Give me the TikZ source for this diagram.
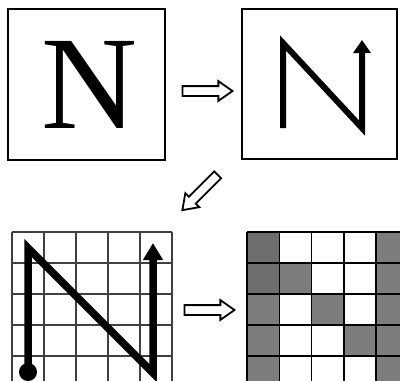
\documentclass[tikz,border=0pt]{standalone}
\usepackage{fontspec}
\usepackage{tikz}
\usetikzlibrary{arrows.meta, shapes.arrows}
\newfontfamily\letterfont{Liberation Serif}
\definecolor{cellgray}{gray}{0.49}
\definecolor{celldark}{gray}{0.43}
\definecolor{gridgray}{gray}{0.25}

\tikzset{
  frame/.style={draw=black, line width=1.6pt, inner sep=0pt},
  hollow/.style={single arrow, draw=black, fill=white, line width=1.8pt,
    minimum height=50pt, inner sep=4pt, single arrow head extend=5pt,
    single arrow tip angle=70, single arrow head indent=0pt},
  stroke/.style={line width=6pt, line join=miter},
  gridline/.style={draw=gridgray, line width=1.8pt}
}

\begin{document}
\begin{tikzpicture}[x=1pt, y=-1pt]
    \fill[white] (0,0) rectangle (400,381);
    \useasboundingbox (0,0) rectangle (400,381);

    % Printed letter
    \node[frame, minimum width=157pt, minimum height=151pt] (plain) at (86.5,84.5) {};
    \node[inner sep=0pt, anchor=base] (letter) at (90,128)
          {\letterfont\fontsize{133}{133}\selectfont N};

    % Stroke order
    \node[frame, minimum width=155pt, minimum height=150pt] (order) at (319.5,84) {};
    \coordinate (s1) at (283,128);
    \coordinate (s2) at (283,43);
    \coordinate (s3) at (362,128);
    \coordinate (s4) at (362,40);
    \draw[stroke, -{Triangle[length=13pt, width=17pt]}] (s1) -- (s2) -- (s3) -- (s4);

    % Stroke on the grid
    \foreach \i in {0,...,5}
        \draw[gridline] ({12+32*\i},232) -- ({12+32*\i},387);
    \foreach \j in {0,...,5}
        \draw[gridline] (12,{232+31*\j}) -- (172,{232+31*\j});
    \coordinate (g1) at (28,372);
    \coordinate (g2) at (28,248);
    \coordinate (g3) at (153,373);
    \coordinate (g4) at (153,243);
    \fill (g1) circle (9pt);
    \draw[line width=7.5pt, line join=miter, -{Triangle[length=17pt, width=19pt]}]
          (g1) -- (g2) -- (g3) -- (g4);

    % Filled cells
    \foreach \c/\r in {0/2, 0/3, 0/4, 4/0, 4/1, 4/2, 4/3, 4/4, 1/1, 2/2, 3/3}
        \fill[cellgray] ({247+32.3*\c},{232+31*\r}) rectangle ++(32.3,31);
    \foreach \c/\r in {0/0, 0/1}
        \fill[celldark] ({247+32.3*\c},{232+31*\r}) rectangle ++(32.3,31);
    \foreach \i in {0,...,5}
        \draw[black, line width=1.5pt] ({247+32.3*\i},232) -- ({247+32.3*\i},387);
    \foreach \j in {0,...,5}
        \draw[black, line width=1.5pt] (247,{232+31*\j}) -- (409,{232+31*\j});

    % Steps
    \node[hollow] (step1) at (204,91) {};
    \node[hollow, rotate=225] (step2) at (202.5,190) {};
    \node[hollow] (step3) at (206,310) {};
\end{tikzpicture}
\end{document}
